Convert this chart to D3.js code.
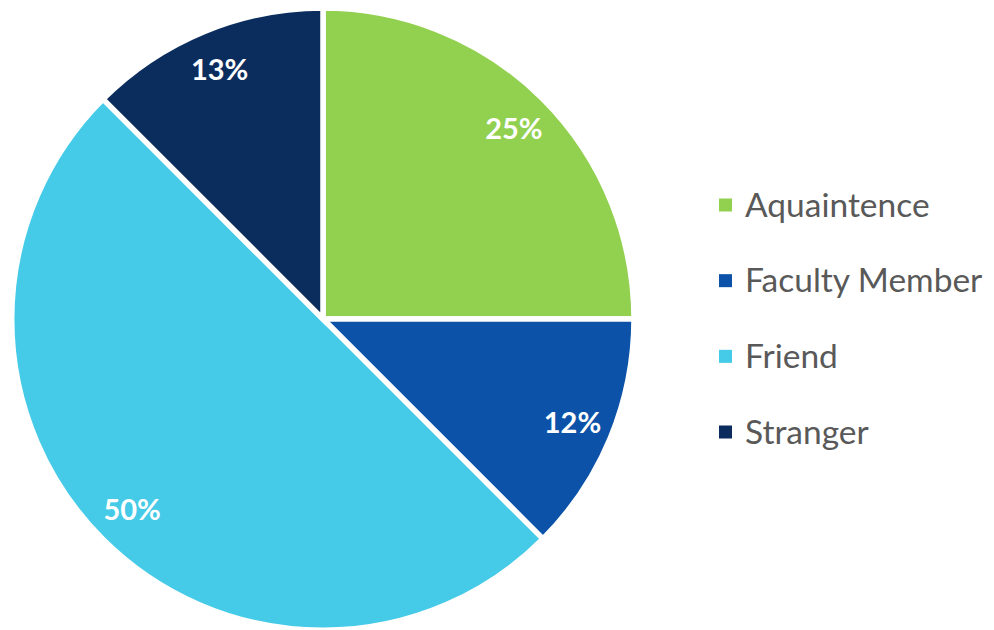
<!DOCTYPE html>
<html>
<head>
<meta charset="utf-8">
<script src="https://cdn.jsdelivr.net/npm/d3@7"></script>
<style>
  body { margin: 0; background: #fff; }
  svg { display: block; }
</style>
</head>
<body>
<div class="viewport"></div>
<script>
// chart data
var categories = ["Aquaintence", "Faculty Member", "Friend", "Stranger"];
var values = [25, 12.5, 50, 12.5];
var labels = ["25%", "12%", "50%", "13%"];
var colors = ["#92d050", "#0c52a8", "#45cbe7", "#0b2d5e"];

var width = 994, height = 630;
var cx = 323, cy = 319, radius = 311;

var svg = d3.select('.viewport').append('svg')
  .attr('width', width)
  .attr('height', height);

var pie = d3.pie().sort(null).value((d) => d.value);
var data = categories.map((c, i) => ({ name: c, value: values[i], label: labels[i], color: colors[i] }));
var arcs = pie(data);

var arc = d3.arc().innerRadius(0).outerRadius(radius);
var labelArc = d3.arc().innerRadius(270).outerRadius(270);

var g = svg.append('g').attr('transform', `translate(${cx},${cy})`);

g.selectAll('path')
  .data(arcs)
  .enter().append('path')
  .attr('d', arc)
  .attr('fill', (d) => d.data.color)
  .attr('stroke', '#fff')
  .attr('stroke-width', 5.5)
  .attr('stroke-linejoin', 'miter');

g.selectAll('text.pct')
  .data(arcs)
  .enter().append('text')
  .attr('class', 'pct')
  .attr('transform', (d) => `translate(${labelArc.centroid(d)})`)
  .attr('text-anchor', 'middle')
  .attr('dy', '0.36em')
  .style('font-family', 'Lato, sans-serif')
  .style('font-weight', 'bold')
  .style('font-size', '29px')
  .attr('fill', '#fff')
  .text((d) => d.data.label);

// legend
var legend = svg.append('g').attr('transform', 'translate(719,0)');
var rowY = d3.scalePoint().domain(categories).range([205, 432]);

var items = legend.selectAll('g')
  .data(data)
  .enter().append('g')
  .attr('transform', (d) => `translate(0,${rowY(d.name)})`);

items.append('rect')
  .attr('x', 0)
  .attr('y', -6.5)
  .attr('width', 13)
  .attr('height', 13)
  .attr('fill', (d) => d.color);

items.append('text')
  .attr('x', 26)
  .attr('dy', '0.35em')
  .style('font-family', 'Lato, sans-serif')
  .style('font-size', '33.5px')
  .attr('fill', '#595959')
  .text((d) => d.name);
</script>
</body>
</html>
